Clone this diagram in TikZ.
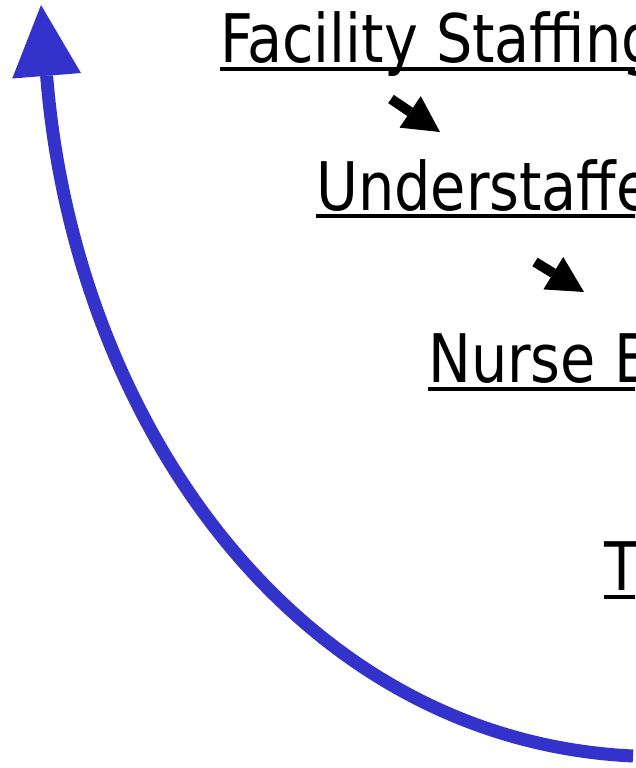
\documentclass[tikz,border=0pt]{standalone}
\usepackage{fontspec}
\setmainfont[FakeStretch=0.95]{DejaVu Sans Condensed}
\usetikzlibrary{arrows.meta}
\definecolor{loopblue}{HTML}{3333CC}
\tikzset{
  label text/.style={anchor=base west, inner sep=0pt, font=\fontsize{67}{80}\selectfont},
  ul/.style={line width=4pt},
  stepar/.style={line width=10pt, -{Triangle[length=36pt,width=38pt,line width=0pt]}},
  looparrow/.style={loopblue, line width=13pt, -{Triangle[length=71pt,width=69pt,line width=0pt]}}
}
\begin{document}
\begin{tikzpicture}[x=1pt,y=-1pt]
\useasboundingbox (0,0) rectangle (635,768);
\clip (0,0) rectangle (635,768);
\node[label text] (fac) at (220,63) {Facility Staffing};
\node[label text] (und) at (316,210) {Understaffe};
\node[label text] (nur) at (428,382) {Nurse B};
\node[label text] (tt) at (604,590) {T};
\draw[ul] ([yshift=-6pt]fac.base west) -- ++(500,0);
\draw[ul] ([yshift=-6pt]und.base west) -- ++(500,0);
\draw[ul] ([yshift=-7pt]nur.base west) -- ++(500,0);
\draw[ul] ([yshift=-7pt]tt.base west) -- ++(500,0);
\coordinate (a1s) at (391,99);
\coordinate (a1e) at (440,132);
\coordinate (a2s) at (535,262);
\coordinate (a2e) at (584,292);
\draw[stepar] (a1s) -- (a1e);
\draw[stepar] (a2s) -- (a2e);
\coordinate (ls) at (633,756);
\coordinate (le) at (41,5);
\draw[looparrow] (ls) .. controls (296,740) and (74,420) .. (le);
\end{tikzpicture}
\end{document}
